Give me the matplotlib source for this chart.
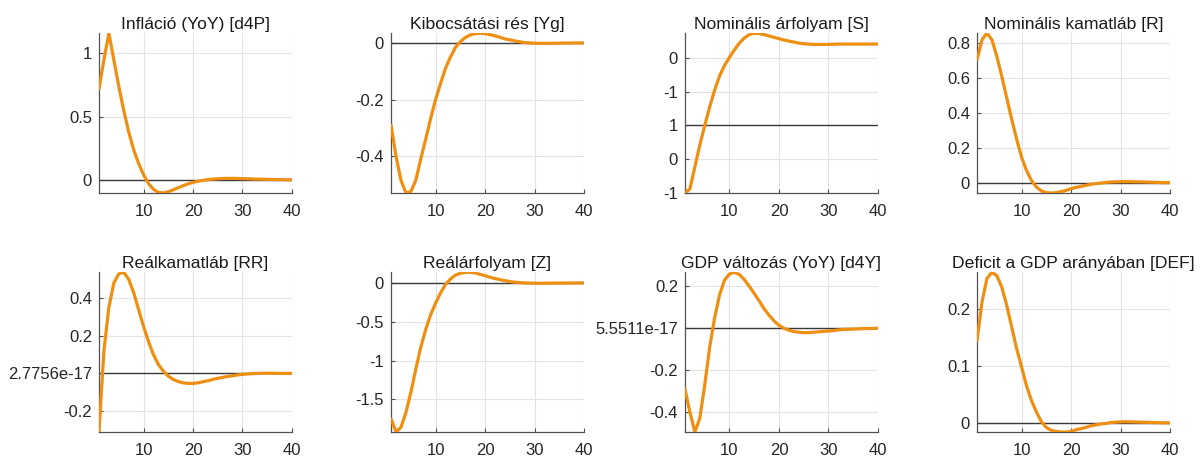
# impulse responses - 2x4 panel grid, matlab-ish look

import numpy as np
import matplotlib
matplotlib.use('Agg')
import matplotlib.pyplot as plt

plt.rcParams['font.family'] = ['Liberation Sans', 'DejaVu Sans']

periods = np.arange(1, 41)

titles = ['Infláció (YoY) [d4P]', 'Kibocsátási rés [Yg]', 'Nominális árfolyam [S]',
          'Nominális kamatláb [R]', 'Reálkamatláb [RR]', 'Reálárfolyam [Z]',
          'GDP változás (YoY) [d4Y]', 'Deficit a GDP arányában [DEF]']

d4p = [0.72, 0.95, 1.16, 0.95, 0.74, 0.55, 0.38, 0.24, 0.13, 0.04,
       -0.03, -0.075, -0.10, -0.105, -0.095, -0.08, -0.063, -0.047, -0.033, -0.021,
       -0.012, -0.005, 0.001, 0.005, 0.008, 0.01, 0.011, 0.011, 0.01, 0.009,
       0.008, 0.006, 0.005, 0.004, 0.003, 0.002, 0.001, 0.001, 0.0, 0.0]

yg = [-0.29, -0.40, -0.485, -0.53, -0.525, -0.485, -0.41, -0.34, -0.267, -0.20,
      -0.143, -0.09, -0.05, -0.016, 0.004, 0.019, 0.028, 0.033, 0.034, 0.033,
      0.029, 0.025, 0.02, 0.014, 0.011, 0.007, 0.004, 0.001, 0.0, -0.001,
      -0.0015, -0.0015, -0.0015, -0.001, -0.001, -0.0005, -0.0005, 0.0, 0.0, 0.0]

s = [-1.0, -0.88, -0.23, 0.42, 1.0, 1.55, 2.05, 2.47, 2.78, 3.02,
     3.24, 3.44, 3.59, 3.69, 3.73, 3.72, 3.69, 3.65, 3.61, 3.57,
     3.53, 3.50, 3.47, 3.44, 3.42, 3.41, 3.40, 3.40, 3.40, 3.40,
     3.405, 3.41, 3.41, 3.41, 3.41, 3.41, 3.41, 3.41, 3.41, 3.41]

r = [0.705, 0.82, 0.857, 0.82, 0.724, 0.61, 0.487, 0.364, 0.25, 0.146,
     0.07, 0.013, -0.025, -0.047, -0.057, -0.059, -0.057, -0.051, -0.044, -0.034,
     -0.027, -0.021, -0.015, -0.009, -0.005, -0.002, 0.001, 0.004, 0.005, 0.006,
     0.006, 0.006, 0.005, 0.005, 0.004, 0.003, 0.002, 0.001, 0.0005, 0.0]

rr = [-0.311, 0.12, 0.35, 0.48, 0.528, 0.537, 0.50, 0.43, 0.34, 0.25,
      0.17, 0.10, 0.048, 0.012, -0.014, -0.032, -0.043, -0.05, -0.053, -0.053,
      -0.05, -0.044, -0.039, -0.032, -0.026, -0.021, -0.016, -0.012, -0.008, -0.005,
      -0.003, -0.001, 0.0, 0.001, 0.001, 0.001, 0.0005, 0.0, 0.0, 0.0]

z = [-1.75, -1.92, -1.86, -1.67, -1.41, -1.11, -0.83, -0.60, -0.41, -0.26,
     -0.13, -0.02, 0.05, 0.10, 0.124, 0.137, 0.137, 0.128, 0.11, 0.094,
     0.073, 0.056, 0.043, 0.03, 0.017, 0.009, 0.004, 0.0, -0.002, -0.004,
     -0.004, -0.004, -0.003, -0.002, -0.002, -0.001, -0.001, 0.0, 0.0, 0.0]

d4y = [-0.29, -0.40, -0.495, -0.43, -0.27, -0.09, 0.05, 0.16, 0.23, 0.259,
       0.267, 0.256, 0.232, 0.20, 0.166, 0.13, 0.093, 0.062, 0.035, 0.014,
       0.0, -0.009, -0.016, -0.019, -0.021, -0.021, -0.019, -0.017, -0.015, -0.013,
       -0.011, -0.008, -0.006, -0.005, -0.004, -0.003, -0.002, -0.001, -0.001, 0.0]

deficit = [0.144, 0.212, 0.253, 0.264, 0.258, 0.238, 0.206, 0.168, 0.13, 0.098,
           0.065, 0.039, 0.019, 0.002, -0.008, -0.013, -0.015, -0.016, -0.016, -0.015,
           -0.012, -0.01, -0.008, -0.005, -0.0035, -0.002, -0.001, 0.0006, 0.0012, 0.0018,
           0.002, 0.0018, 0.0015, 0.0012, 0.001, 0.0008, 0.0005, 0.0003, 0.0001, 0.0]

series = [d4p, yg, s, r, rr, z, d4y, deficit]

# ticks and the (odd) labels exactly as they show up in the original
yticks = [[0, 0.5, 1], [-0.4, -0.2, 0], [-1, 0, 1, 2, 3], [0, 0.2, 0.4, 0.6, 0.8],
          [-0.2, 0, 0.2, 0.4], [-1.5, -1, -0.5, 0], [-0.4, -0.2, 0, 0.2], [0, 0.1, 0.2]]
yticklabels = [['0', '0.5', '1'], ['-0.4', '-0.2', '0'], ['-1', '0', '1', '-1', '0'],
               ['0', '0.2', '0.4', '0.6', '0.8'], ['-0.2', '2.7756e-17', '0.2', '0.4'],
               ['-1.5', '-1', '-0.5', '0'], ['-0.4', '-0.2', '5.5511e-17', '0.2'],
               ['0', '0.1', '0.2']]
ref_levels = [0, 0, 1, 0, 0, 0, 0, 0]

fig = plt.figure(figsize=(12.04, 4.59), dpi=100)

lefts = [0.0822, 0.3248, 0.5689, 0.8115]
bottoms = [0.5795, 0.0588]
w, h = 0.1603, 0.348

for i in range(8):
    ax = fig.add_axes([lefts[i % 4], bottoms[i // 4], w, h])
    y = np.array(series[i])
    ax.plot([1, 40], [ref_levels[i]] * 2, color='#3a3a3a', lw=1.0, zorder=2)
    ax.plot(periods, y, color='#ee8f12', lw=2.3, zorder=3, solid_capstyle='round')
    ax.set_xlim(1, 40)
    ax.set_ylim(y.min(), y.max())
    ax.set_xticks([10, 20, 30, 40])
    ax.set_yticks(yticks[i])
    ax.set_yticklabels(yticklabels[i])
    ax.grid(True, color='#e3e3e3', lw=0.8)
    ax.set_axisbelow(True)
    for side in ['top', 'right']:
        ax.spines[side].set_visible(False)
    for side in ['left', 'bottom']:
        ax.spines[side].set_color('#505050')
        ax.spines[side].set_linewidth(0.9)
    ax.tick_params(direction='in', length=3, width=0.8, color='#505050',
                   labelsize=12, labelcolor='#262626')
    ax.tick_params(axis='y', pad=5)
    ax.tick_params(axis='x', pad=8)
    ax.set_title(titles[i], fontsize=12.6, color='#1a1a1a', pad=3)

fig.savefig('out.png', dpi=100)
